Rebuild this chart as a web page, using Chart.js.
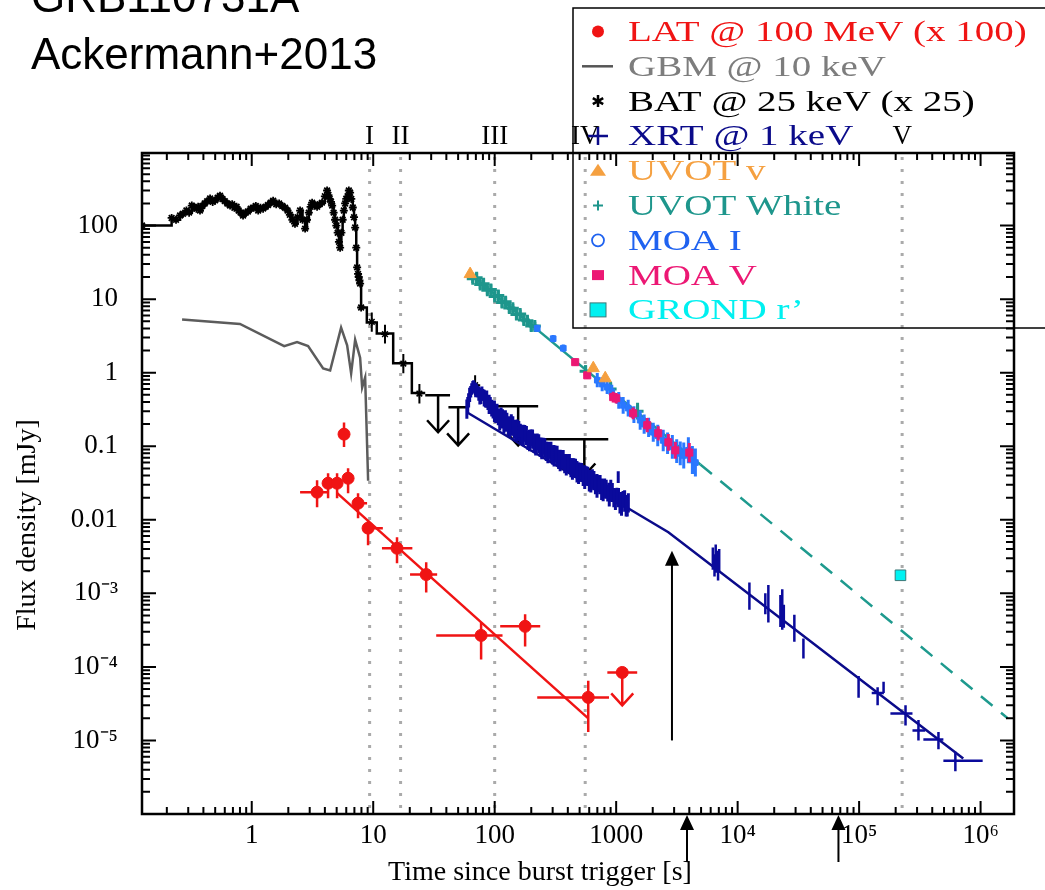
<!DOCTYPE html>
<html>
<head>
<meta charset="utf-8">
<script src="https://cdn.jsdelivr.net/npm/chart.js@4.4.1/dist/chart.umd.min.js"></script>
<style>
  html, body { margin: 0; padding: 0; background: #fff; }
  #wrap { position: relative; width: 1045px; height: 890px; }
</style>
</head>
<body>
<div id="wrap"><canvas id="lc"></canvas></div>
<script>
// ---------- axes ----------
const xMin = 0.1249, xMax = 1.884e6;
const yMin = 1e-6, yMax = 970;
const xTickVals = [1, 10, 100, 1000, 1e4, 1e5, 1e6];
const xTickLabels = ['1', '10', '100', '1000', '10⁴', '10⁵', '10⁶'];
const yTickVals = [1e-5, 1e-4, 1e-3, 0.01, 0.1, 1, 10, 100];
const yTickLabels = ['10⁻⁵', '10⁻⁴', '10⁻³', '0.01', '0.1', '1', '10', '100'];

// epochs I..V and the marker arrows
const epochT = [9.34, 16.8, 100, 556, 2.26e5];
const epochLabels = ['I', 'II', 'III', 'IV', 'V'];
const arrowInT = [2880];
const arrowInFrom = [1e-5];
const arrowInTo = [3.8e-3];
const arrowBelowT = [3830, 6.76e4];

// ---------- GBM @ 10 keV ----------
const gbmT = [0.267, 0.80, 1.85, 2.36, 2.91, 3.87, 4.42, 5.44, 6.10, 6.58, 7.10, 7.80, 8.11, 8.58, 9.08];
const gbmF = [5.3, 4.6, 2.3, 2.6, 2.3, 1.14, 1.07, 4.1, 2.35, 0.98, 2.8, 1.6, 0.63, 0.86, 0.034];

// ---------- BAT @ 25 keV (x25) ----------
const batT = [0.125, 0.219, 0.238, 0.257, 0.272, 0.29, 0.305, 0.321, 0.335, 0.35,
  0.362, 0.375, 0.392, 0.41, 0.43, 0.454, 0.477, 0.5, 0.524, 0.548,
  0.574, 0.6, 0.63, 0.663, 0.69, 0.72, 0.75, 0.78, 0.81, 0.848,
  0.89, 0.93, 0.98, 1.03, 1.08, 1.13, 1.18, 1.24, 1.3, 1.36,
  1.43, 1.5, 1.59, 1.68, 1.78, 1.88, 1.97, 2.06, 2.16, 2.27,
  2.38, 2.5, 2.62, 2.75, 2.85, 2.95, 3.05, 3.14, 3.3, 3.45,
  3.62, 3.79, 4.0, 4.17, 4.28, 4.38, 4.49, 4.59, 4.72, 4.85,
  4.97, 5.1, 5.22, 5.34, 5.47, 5.6, 5.73, 5.87, 6.0, 6.15,
  6.3, 6.45, 6.6, 6.79, 6.95, 7.1, 7.25, 7.37, 7.5, 7.6,
  7.7, 7.8, 7.95, 8.86, 10.7, 14.6, 20.8, 26.8];
const batF = [100, 127, 120, 137, 145, 160, 150, 187, 175, 170,
  180, 160, 185, 200, 215, 233, 210, 220, 240, 255,
  230, 215, 200, 187, 195, 175, 180, 160, 150, 137,
  150, 155, 170, 175, 185, 160, 175, 170, 180, 190,
  205, 218, 195, 200, 185, 175, 160, 140, 120, 106,
  130, 160, 120, 91, 120, 150, 180, 205, 190, 180,
  195, 205, 250, 300, 260, 230, 210, 187, 150, 120,
  100, 80, 60, 50, 80, 120, 160, 200, 230, 250,
  300, 280, 230, 176, 130, 94, 50, 27, 22, 20,
  18, 16.3, 7.7, 4.8, 3.4, 1.34, 0.53, 0.53];
const batErrT = [9.73, 12.5, 17.7, 24.0, 69];
const batErrF = [4.9, 3.34, 1.33, 0.52, 0.676];
const batErrFlo = [3.6, 2.5, 0.98, 0.38, 0.494];
const batErrFhi = [6.6, 4.5, 1.8, 0.7, 0.925];
const batErrTlo = [null, null, null, null, 65];
const batErrThi = [null, null, null, null, 76];
const batUlT = [34.2, 50, 156, 547];
const batUlF = [0.494, 0.34, 0.35, 0.124];
const batUlTip = [0.155, 0.103, 0.103, 0.040];
const batUlTlo = [26.8, 41.6, 83.5, 228];
const batUlThi = [42.9, 60.4, 228, 861];

// ---------- LAT @ 100 MeV (x100) ----------
const latT = [3.45, 4.25, 5.04, 5.75, 6.21, 7.5, 9.07, 15.7, 27.3, 77.3, 178, 589];
const latF = [0.0237, 0.0314, 0.0314, 0.146, 0.0367, 0.0168, 0.0077, 0.0041, 0.0018, 2.68e-4, 3.56e-4, 3.85e-5];
const latFlo = [0.0148, 0.0196, 0.0196, 0.098, 0.023, 0.0105, 0.0045, 0.00256, 0.00103, 1.26e-4, 1.9e-4, 1.3e-5];
const latFhi = [0.0344, 0.043, 0.043, 0.21, 0.0502, 0.023, 0.0098, 0.0058, 0.00264, 4.0e-4, 5.2e-4, 6.5e-5];
const latTlo = [2.50, null, null, null, null, 6.8, 8.3, 11.8, 20.1, 33, 111, 224];
const latThi = [4.17, null, null, null, null, 8.9, 12.0, 21, 33.6, 116, 237, 873];
const latUlT = [1122];
const latUlF = [8.4e-5];
const latUlTip = [3.0e-5];
const latUlTlo = [846];
const latUlThi = [1490];
const latModelT = [5.05, 589];
const latModelF = [0.023, 2.0e-5];

// ---------- XRT @ 1 keV ----------
const xrtT = [59, 61, 63.5, 66, 68.5, 71, 74, 77, 80, 84, 88, 92, 97, 102, 107, 113, 119, 126, 133, 141,
  149, 158, 167, 177, 188, 199, 211, 224, 237, 251, 266, 282, 299, 317, 336, 356, 377, 400, 424, 449,
  476, 505, 535, 567, 601, 637, 675, 716, 759, 804, 852, 903, 957, 1015, 1040, 1075, 1140, 1208, 1260];
const xrtF = [0.32, 0.42, 0.55, 0.64, 0.62, 0.58, 0.52, 0.47, 0.50, 0.42, 0.39, 0.36, 0.31, 0.27, 0.25, 0.25, 0.20, 0.22, 0.18, 0.19,
  0.16, 0.17, 0.14, 0.15, 0.12, 0.13, 0.11, 0.115, 0.097, 0.10, 0.085, 0.088, 0.076, 0.078, 0.066, 0.068, 0.058, 0.060, 0.051, 0.053,
  0.045, 0.046, 0.039, 0.041, 0.034, 0.036, 0.030, 0.031, 0.026, 0.027, 0.023, 0.025, 0.020, 0.021, 0.038, 0.017, 0.019, 0.015, 0.017];
const xrtE = [1.35, 1.25, 1.2, 1.2, 1.2, 1.2, 1.25, 1.25, 1.2, 1.25, 1.25, 1.3, 1.3, 1.3, 1.3, 1.35, 1.35, 1.3, 1.35, 1.35,
  1.35, 1.3, 1.35, 1.3, 1.35, 1.3, 1.35, 1.3, 1.35, 1.3, 1.35, 1.3, 1.35, 1.3, 1.35, 1.3, 1.35, 1.3, 1.35, 1.3,
  1.4, 1.3, 1.35, 1.3, 1.4, 1.35, 1.35, 1.3, 1.4, 1.35, 1.3, 1.4, 1.35, 1.3, 1.2, 1.4, 1.3, 1.35, 1.35];
const xrtBT = [60, 62.2, 64.7, 67.2, 69.7, 72.5, 75.5, 78.5, 82, 86, 90, 94.5, 99.5, 104.5, 110, 116, 122.5, 129.5, 137, 145,
  153.5, 162.5, 172, 182.5, 193.5, 205, 217.5, 230.5, 244, 258.5, 274, 290.5, 308, 326.5, 346, 366.5, 388.5, 412, 436.5, 462.5,
  490.5, 520, 551, 584, 619, 656, 695.5, 737.5, 781.5, 828, 877.5, 930, 986, 1045, 1107, 1174, 1234];
const xrtBF = [0.36, 0.50, 0.60, 0.66, 0.58, 0.55, 0.48, 0.52, 0.45, 0.44, 0.37, 0.33, 0.30, 0.28, 0.23, 0.235, 0.22, 0.19, 0.195, 0.17,
  0.165, 0.15, 0.14, 0.14, 0.12, 0.125, 0.105, 0.108, 0.093, 0.095, 0.082, 0.085, 0.074, 0.075, 0.064, 0.066, 0.056, 0.058, 0.049, 0.050,
  0.043, 0.044, 0.038, 0.039, 0.033, 0.034, 0.029, 0.030, 0.025, 0.026, 0.022, 0.0235, 0.019, 0.020, 0.0165, 0.018, 0.0155];
const xrtBE = [1.3, 1.25, 1.2, 1.2, 1.25, 1.2, 1.3, 1.25, 1.3, 1.3, 1.35, 1.3, 1.4, 1.35, 1.4, 1.35, 1.4, 1.35, 1.4, 1.35,
  1.4, 1.35, 1.4, 1.35, 1.4, 1.35, 1.4, 1.35, 1.4, 1.35, 1.4, 1.35, 1.4, 1.35, 1.4, 1.35, 1.4, 1.35, 1.4, 1.35,
  1.4, 1.35, 1.45, 1.35, 1.4, 1.35, 1.45, 1.35, 1.4, 1.35, 1.45, 1.35, 1.4, 1.35, 1.45, 1.4, 1.4];
const xrtLateT = [6250, 6450, 6600, 6750, 6900, 7050, 12500, 16900, 17900, 22500, 23300, 24000, 29300, 34800,
  9.9e4, 1.42e5, 1.59e5, 2.41e5, 3.08e5, 4.5e5, 6.2e5];
const xrtLateF = [0.0030, 0.0024, 0.0033, 0.0027, 0.0022, 0.0029, 9.4e-4, 7.3e-4, 7.0e-4, 5.8e-4, 5.3e-4, 4.9e-4, 3.3e-4, 1.73e-4,
  6.15e-5, 4.4e-5, 5.3e-5, 2.33e-5, 1.37e-5, 1.03e-5, 5.3e-6];
const xrtLateFlo = [0.0021, 0.0017, 0.0024, 0.0019, 0.0015, 0.0020, 6.0e-4, 5.2e-4, 4.0e-4, 3.5e-4, 3.2e-4, 3.4e-4, 2.2e-4, 1.3e-4,
  3.8e-5, 3.0e-5, 4.4e-5, 1.6e-5, 1.0e-5, 7.6e-6, 3.8e-6];
const xrtLateFhi = [0.0042, 0.0034, 0.0046, 0.0038, 0.0031, 0.0040, 1.4e-3, 1.0e-3, 1.3e-3, 9.5e-4, 1.14e-3, 7.0e-4, 5.1e-4, 2.44e-4,
  7.5e-5, 5.3e-5, 6.3e-5, 3.0e-5, 1.9e-5, 1.3e-5, 7.0e-6];
const xrtLateTlo = [null, null, null, null, null, null, null, null, null, null, null, null, null, null,
  null, 1.27e5, null, 1.81e5, 2.75e5, 3.38e5, 4.94e5];
const xrtLateThi = [null, null, null, null, null, null, null, null, null, null, null, null, null, null,
  null, 1.6e5, null, 2.75e5, 3.5e5, 4.94e5, 1.04e6];
const xrtModelT = [59, 2690, 7.2e5];
const xrtModelF = [0.29, 0.00676, 5.7e-6];

// ---------- optical ----------
const uvvT = [62.8, 648, 813];
const uvvF = [21.9, 1.15, 0.84];
const uvwT = [66, 71, 76, 81, 87, 93, 100, 107, 115, 123, 132, 141, 151, 162, 174, 186, 200, 214, 560, 900, 1500];
const uvwF = [19, 19.5, 15.8, 16.2, 13.2, 13.5, 10.9, 11.2, 9.0, 9.2, 7.6, 7.5, 6.2, 6.3, 5.2, 5.1, 4.3, 4.3, 1.05, 0.6, 0.3];
const uvwE = [1.15, 1.18, 1.15, 1.18, 1.15, 1.18, 1.15, 1.18, 1.18, 1.15, 1.18, 1.15, 1.18, 1.15, 1.18, 1.15, 1.18, 1.15, 1.2, 1.25, 1.3];
const moaIT = [224, 303, 367, 699, 767, 843, 920, 1050, 1142, 1256, 1400, 1577, 1700, 1850, 2020, 2200, 2440, 2650, 2900, 3150, 3370, 3600, 3930, 4240, 4490];
const moaIF = [4.0, 2.9, 2.15, 0.79, 0.70, 0.64, 0.55, 0.42, 0.36, 0.33, 0.27, 0.226, 0.20, 0.18, 0.155, 0.14, 0.12, 0.11, 0.098, 0.086, 0.080, 0.075, 0.088, 0.065, 0.060];
const moaIE = [1.12, 1.12, 1.12, 1.25, 1.25, 1.25, 1.25, 1.3, 1.3, 1.3, 1.3, 1.35, 1.35, 1.35, 1.35, 1.4, 1.4, 1.4, 1.45, 1.45, 1.45, 1.5, 1.5, 1.55, 1.55];
const moaVT = [460, 578, 945, 1000, 1380, 1802, 2220, 2690, 3070, 4000];
const moaVF = [1.39, 0.92, 0.465, 0.45, 0.28, 0.193, 0.15, 0.113, 0.088, 0.082];
const moaVE = [1.12, 1.12, 1.18, 1.18, 1.2, 1.25, 1.25, 1.3, 1.3, 1.35];
const grondT = [2.19e5];
const grondF = [1.76e-3];
const optModelT = [62.8, 4930, 1.67e6];
const optModelF = [21.9, 0.0566, 2.0e-5];
const optDashFrom = 4930;

// ---------- legend ----------
const legendItems = [
  ['LAT @ 100 MeV (x 100)', '#f01414', 'dot'],
  ['GBM @ 10 keV', '#7d7d7d', 'line'],
  ['BAT @ 25 keV (x 25)', '#000000', 'star'],
  ['XRT @ 1 keV', '#0b0b8a', 'plus'],
  ['UVOT v', '#f5a040', 'tri'],
  ['UVOT White', '#1e968c', 'plusSmall'],
  ['MOA I', '#1f62f0', 'ring'],
  ['MOA V', '#ec1874', 'sq'],
  ['GROND r’', '#00f0f0', 'sqBig']
];

const SERIF = "'Liberation Serif', 'Times New Roman', serif";
const SANS = "'Liberation Sans', Arial, sans-serif";

// ---------- helpers ----------
function pts(t, f, o = {}) {
  return t.map((v, i) => ({
    x: v, y: f[i],
    xlo: o.tlo ? o.tlo[i] : null,
    xhi: o.thi ? o.thi[i] : null,
    ylo: o.flo ? o.flo[i] : (o.fe ? f[i] / o.fe[i] : null),
    yhi: o.fhi ? o.fhi[i] : (o.fe ? f[i] * o.fe[i] : null),
    tip: o.tip ? o.tip[i] : null
  }));
}

function drawBars(chart, ds) {
  const { ctx, chartArea: a } = chart;
  const xs = chart.scales.x, ys = chart.scales.y;
  ctx.save();
  ctx.beginPath();
  ctx.rect(a.left, a.top, a.right - a.left, a.bottom - a.top);
  ctx.clip();
  ctx.strokeStyle = ds.barColor || ds.borderColor;
  ctx.lineWidth = ds.barWidth || 2.5;
  ctx.beginPath();
  ds.data.forEach(p => {
    const px = xs.getPixelForValue(p.x), py = ys.getPixelForValue(p.y);
    if (p.xlo != null) { ctx.moveTo(xs.getPixelForValue(p.xlo), py); ctx.lineTo(xs.getPixelForValue(p.xhi), py); }
    if (p.ylo != null) { ctx.moveTo(px, ys.getPixelForValue(p.ylo)); ctx.lineTo(px, ys.getPixelForValue(p.yhi)); }
    if (p.tip != null) {
      const ty = ys.getPixelForValue(p.tip);
      ctx.moveTo(px, py); ctx.lineTo(px, ty);
      ctx.moveTo(px - 11, ty - 12); ctx.lineTo(px, ty); ctx.lineTo(px + 11, ty - 12);
    }
  });
  ctx.stroke();
  ctx.restore();
}

function arrowUp(ctx, x, yTip, yTail) {
  ctx.beginPath();
  ctx.moveTo(x, yTail); ctx.lineTo(x, yTip + 10);
  ctx.stroke();
  ctx.beginPath();
  ctx.moveTo(x, yTip); ctx.lineTo(x - 7, yTip + 15); ctx.lineTo(x + 7, yTip + 15);
  ctx.closePath();
  ctx.fill();
}

function legendMark(ctx, kind, color, x, y) {
  ctx.save();
  ctx.fillStyle = color; ctx.strokeStyle = color;
  ctx.beginPath();
  if (kind === 'dot') { ctx.arc(x, y, 6, 0, Math.PI * 2); ctx.fill(); }
  else if (kind === 'line') { ctx.strokeStyle = '#555'; ctx.lineWidth = 2.5; ctx.moveTo(x - 16, y); ctx.lineTo(x + 15, y); ctx.stroke(); }
  else if (kind === 'star') {
    ctx.lineWidth = 2.5;
    for (let k = 0; k < 3; k++) {
      const ang = Math.PI / 2 + k * Math.PI / 3;
      ctx.moveTo(x - 6 * Math.cos(ang), y - 6 * Math.sin(ang));
      ctx.lineTo(x + 6 * Math.cos(ang), y + 6 * Math.sin(ang));
    }
    ctx.stroke();
  }
  else if (kind === 'plus') { ctx.lineWidth = 2.5; ctx.moveTo(x - 10, y); ctx.lineTo(x + 10, y); ctx.moveTo(x, y - 9); ctx.lineTo(x, y + 9); ctx.stroke(); }
  else if (kind === 'plusSmall') { ctx.lineWidth = 2; ctx.moveTo(x - 5, y); ctx.lineTo(x + 5, y); ctx.moveTo(x, y - 5); ctx.lineTo(x, y + 5); ctx.stroke(); }
  else if (kind === 'tri') { ctx.moveTo(x, y - 7); ctx.lineTo(x - 8, y + 5); ctx.lineTo(x + 8, y + 5); ctx.closePath(); ctx.fill(); }
  else if (kind === 'ring') { ctx.lineWidth = 1.8; ctx.arc(x, y, 6, 0, Math.PI * 2); ctx.stroke(); }
  else if (kind === 'sq') { ctx.fillRect(x - 6, y - 5, 12, 10); }
  else if (kind === 'sqBig') { ctx.fillRect(x - 8, y - 7, 16, 14); ctx.strokeStyle = '#3c7878'; ctx.lineWidth = 1; ctx.strokeRect(x - 8, y - 7, 16, 14); }
  ctx.restore();
}

// ---------- plugin: epochs, error bars, frame, titles, legend ----------
const lcPlugin = {
  id: 'lc',
  beforeDatasetsDraw(chart) {
    const { ctx, chartArea: a, scales: { x } } = chart;
    ctx.save();
    ctx.strokeStyle = '#aaaaaa';
    ctx.lineWidth = 3;
    ctx.setLineDash([3, 9]);
    epochT.forEach(t => {
      const px = x.getPixelForValue(t);
      ctx.beginPath(); ctx.moveTo(px, a.top + 4); ctx.lineTo(px, a.bottom); ctx.stroke();
    });
    ctx.restore();
  },
  beforeDatasetDraw(chart, args) {
    const ds = chart.data.datasets[args.index];
    if (ds.bars) drawBars(chart, ds);
  },
  afterDatasetsDraw(chart) {
    const { ctx, scales: { x, y } } = chart;
    ctx.save();
    ctx.strokeStyle = '#000'; ctx.fillStyle = '#000'; ctx.lineWidth = 2;
    arrowInT.forEach((t, i) => arrowUp(ctx, x.getPixelForValue(t), y.getPixelForValue(arrowInTo[i]), y.getPixelForValue(arrowInFrom[i])));
    ctx.restore();
  },
  afterDraw(chart) {
    const { ctx, chartArea: a, scales: { x, y } } = chart;
    ctx.save();
    // frame
    ctx.strokeStyle = '#000';
    ctx.lineWidth = 2.5;
    ctx.strokeRect(a.left, a.top, a.right - a.left, a.bottom - a.top);
    // inward ticks on all four sides
    ctx.lineWidth = 2;
    ctx.beginPath();
    for (let e = -1; e <= 6; e++) {
      for (let k = 1; k <= 9; k++) {
        const v = k * Math.pow(10, e);
        if (v < xMin || v > xMax) continue;
        const px = x.getPixelForValue(v), len = k === 1 ? 13 : 7;
        ctx.moveTo(px, a.bottom); ctx.lineTo(px, a.bottom - len);
        ctx.moveTo(px, a.top); ctx.lineTo(px, a.top + len);
      }
    }
    for (let e = -6; e <= 2; e++) {
      for (let k = 1; k <= 9; k++) {
        const v = k * Math.pow(10, e);
        if (v < yMin || v > yMax) continue;
        const py = y.getPixelForValue(v), len = k === 1 ? 14 : 8;
        ctx.moveTo(a.left, py); ctx.lineTo(a.left + len, py);
        ctx.moveTo(a.right, py); ctx.lineTo(a.right - len, py);
      }
    }
    ctx.stroke();

    // epoch labels
    ctx.fillStyle = '#000';
    ctx.font = '27px ' + SERIF;
    ctx.textAlign = 'center';
    ctx.textBaseline = 'alphabetic';
    epochT.forEach((t, i) => ctx.fillText(epochLabels[i], x.getPixelForValue(t), 144));

    // axis titles
    ctx.font = '28px ' + SERIF;
    ctx.fillText('Time since burst trigger [s]', 540, 880);
    ctx.save();
    ctx.translate(28, 525);
    ctx.rotate(-Math.PI / 2);
    ctx.textBaseline = 'middle';
    ctx.fillText('Flux density [mJy]', 0, 0);
    ctx.restore();

    // arrows under the time axis
    ctx.lineWidth = 2;
    arrowBelowT.forEach(t => arrowUp(ctx, x.getPixelForValue(t), a.bottom + 1, a.bottom + 48));

    // header
    ctx.textAlign = 'left';
    ctx.font = '44px ' + SANS;
    ctx.fillText('GRB110731A', 31, 12);
    ctx.fillText('Ackermann+2013', 31, 69);

    // legend box (no fill, plot shows through)
    ctx.lineWidth = 1.5;
    ctx.strokeStyle = '#000';
    ctx.strokeRect(573, 8, 520, 320);
    ctx.font = '30px ' + SERIF;
    legendItems.forEach((it, i) => {
      const base = 41 + i * 34.8;
      legendMark(ctx, it[2], it[1], 598, base - 9.5);
      ctx.save();
      ctx.fillStyle = it[1];
      ctx.translate(628, base);
      ctx.scale(1.3, 1);
      ctx.fillText(it[0], 0, 0);
      ctx.restore();
    });
    ctx.restore();
  }
};

// ---------- chart ----------
Chart.defaults.font.family = SERIF;

new Chart(document.getElementById('lc'), {
  type: 'scatter',
  data: {
    datasets: [
      { label: 'GBM', data: pts(gbmT, gbmF), showLine: true, borderColor: '#5c5c5c', borderWidth: 2.5, pointRadius: 0, order: 9 },
      { label: 'BAT', data: pts(batT, batF), showLine: true, stepped: true, borderColor: '#000', borderWidth: 2.5,
        pointStyle: 'star', pointRadius: c => (c.raw && c.raw.x < 8 ? 4 : 0), pointBorderColor: '#000', pointBorderWidth: 1.8, order: 8 },
      { label: 'BAT err', data: pts(batErrT, batErrF, { flo: batErrFlo, fhi: batErrFhi, tlo: batErrTlo, thi: batErrThi }), bars: true,
        borderColor: '#000', barWidth: 2, pointStyle: 'star', pointRadius: 4, pointBorderWidth: 1.5, order: 8 },
      { label: 'BAT UL', data: pts(batUlT, batUlF, { tlo: batUlTlo, thi: batUlThi, tip: batUlTip }), bars: true,
        borderColor: '#000', barWidth: 2.5, pointRadius: 0, order: 8 },
      { label: 'opt model', data: pts(optModelT, optModelF), showLine: true, borderColor: '#1e9a8e', borderWidth: 2.5, pointRadius: 0,
        segment: { borderDash: c => (c.p0.parsed.x >= optDashFrom ? [15, 11] : []) }, order: 7 },
      { label: 'XRT model', data: pts(xrtModelT, xrtModelF), showLine: true, borderColor: '#0b0b8a', borderWidth: 2.5, pointRadius: 0, order: 6 },
      { label: 'XRT', data: pts(xrtT, xrtF, { fe: xrtE }), bars: true, borderColor: '#0a0a9c', barWidth: 3, pointRadius: 0, order: 5 },
      { label: 'XRT b', data: pts(xrtBT, xrtBF, { fe: xrtBE }), bars: true, borderColor: '#0a0a9c', barWidth: 3, pointRadius: 0, order: 5 },
      { label: 'XRT late', data: pts(xrtLateT, xrtLateF, { flo: xrtLateFlo, fhi: xrtLateFhi, tlo: xrtLateTlo, thi: xrtLateThi }), bars: true,
        borderColor: '#0a0a9c', barWidth: 2.5, pointRadius: 0, order: 5 },
      { label: 'LAT model', data: pts(latModelT, latModelF), showLine: true, borderColor: '#f01414', borderWidth: 2.5, pointRadius: 0, order: 4 },
      { label: 'LAT', data: pts(latT, latF, { flo: latFlo, fhi: latFhi, tlo: latTlo, thi: latThi }), bars: true,
        borderColor: '#f01414', backgroundColor: '#f01414', barWidth: 2.5, pointStyle: 'circle', pointRadius: 6, order: 3 },
      { label: 'LAT UL', data: pts(latUlT, latUlF, { tlo: latUlTlo, thi: latUlThi, tip: latUlTip }), bars: true,
        borderColor: '#f01414', backgroundColor: '#f01414', barWidth: 2.5, pointStyle: 'circle', pointRadius: 6, order: 3 },
      { label: 'UVOT White', data: pts(uvwT, uvwF, { fe: uvwE }), bars: true, borderColor: '#1e968c', barWidth: 3,
        pointStyle: 'cross', pointRadius: 6, pointBorderWidth: 3, order: 4 },
      { label: 'MOA I', data: pts(moaIT, moaIF, { fe: moaIE }), bars: true, borderColor: '#2a78ff', backgroundColor: '#2a78ff', barWidth: 3,
        pointStyle: 'rect', pointRadius: 4, order: 3 },
      { label: 'MOA V', data: pts(moaVT, moaVF, { fe: moaVE }), bars: true, borderColor: '#ec1874', backgroundColor: '#ec1874', barWidth: 3,
        pointStyle: 'rect', pointRadius: 5, order: 2 },
      { label: 'UVOT v', data: pts(uvvT, uvvF), borderColor: '#f5a040', backgroundColor: '#f5a040', pointStyle: 'triangle', pointRadius: 7, order: 1 },
      { label: 'GROND r', data: pts(grondT, grondF), borderColor: '#3c7878', backgroundColor: '#00f2f2', borderWidth: 1,
        pointStyle: 'rect', pointRadius: 7.5, order: 1 }
    ]
  },
  options: {
    responsive: true,
    maintainAspectRatio: false,
    animation: false,
    events: [],
    layout: { padding: { top: 153, right: 31, left: 0, bottom: 0 } },
    plugins: { legend: { display: false }, tooltip: { enabled: false } },
    scales: {
      x: {
        type: 'logarithmic', min: xMin, max: xMax,
        afterFit: s => { s.height = 76; },
        afterBuildTicks: s => { s.ticks = xTickVals.map(v => ({ value: v })); },
        grid: { display: false, drawTicks: false },
        border: { display: false },
        ticks: { autoSkip: false, maxRotation: 0, padding: 6, color: '#000', font: { family: SERIF, size: 27 },
          callback: (v, i) => xTickLabels[i] }
      },
      y: {
        type: 'logarithmic', min: yMin, max: yMax,
        afterFit: s => { s.width = 142; },
        afterBuildTicks: s => { s.ticks = yTickVals.map(v => ({ value: v })); },
        grid: { display: false, drawTicks: false },
        border: { display: false },
        ticks: { autoSkip: false, padding: 24, color: '#000', font: { family: SERIF, size: 27 },
          callback: (v, i) => yTickLabels[i] }
      }
    }
  },
  plugins: [lcPlugin]
});
</script>
</body>
</html>
